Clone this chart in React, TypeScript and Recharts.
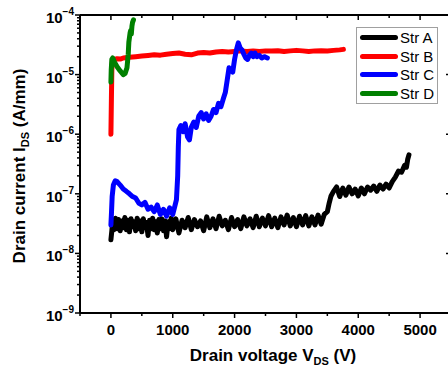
import React from "react";
import { Line, LineChart, ReferenceLine, XAxis, YAxis } from "recharts";

// Str A (black)
const A_V = [0, 15, 30, 50, 75, 100, 125, 150, 175, 200, 225, 250, 275, 300, 325, 350, 375, 400, 425, 450, 475, 500, 525, 550, 575, 600, 625, 650, 675, 700, 725, 750, 775, 800, 825, 850, 875, 900, 925, 950, 975, 1000, 1050, 1100, 1150, 1200, 1250, 1300, 1350, 1400, 1450, 1500, 1550, 1600, 1650, 1700, 1750, 1800, 1850, 1900, 1950, 2000, 2050, 2100, 2150, 2200, 2250, 2300, 2350, 2400, 2450, 2500, 2550, 2600, 2650, 2700, 2750, 2800, 2850, 2900, 2950, 3000, 3050, 3100, 3150, 3200, 3250, 3300, 3350, 3400, 3450, 3500, 3530, 3560, 3600, 3650, 3700, 3750, 3800, 3850, 3900, 3950, 4000, 4050, 4100, 4150, 4200, 4250, 4300, 4350, 4400, 4450, 4500, 4550, 4600, 4650, 4700, 4750, 4780, 4800, 4820];
const A_I = [1.7e-8, 2.4e-8, 3.6e-8, 2.5e-8, 3.9e-8, 2.6e-8, 3.7e-8, 2.4e-8, 3.5e-8, 2.7e-8, 4.0e-8, 2.5e-8, 3.6e-8, 2.3e-8, 3.8e-8, 2.8e-8, 3.4e-8, 2.4e-8, 3.9e-8, 2.6e-8, 3.5e-8, 2.3e-8, 3.8e-8, 2.7e-8, 3.3e-8, 2.0e-8, 3.6e-8, 2.6e-8, 3.9e-8, 2.5e-8, 3.4e-8, 2.2e-8, 3.7e-8, 2.6e-8, 3.8e-8, 2.4e-8, 3.5e-8, 1.9e-8, 3.4e-8, 2.6e-8, 3.9e-8, 2.5e-8, 3.8e-8, 2.2e-8, 3.6e-8, 2.7e-8, 4.0e-8, 2.5e-8, 3.7e-8, 2.8e-8, 3.5e-8, 2.4e-8, 4.1e-8, 2.7e-8, 3.8e-8, 2.6e-8, 4.2e-8, 2.9e-8, 3.6e-8, 2.5e-8, 4.0e-8, 2.8e-8, 3.7e-8, 2.6e-8, 4.1e-8, 2.9e-8, 3.8e-8, 2.7e-8, 4.2e-8, 2.8e-8, 3.9e-8, 2.9e-8, 4.3e-8, 2.8e-8, 3.9e-8, 2.7e-8, 4.1e-8, 3.0e-8, 4.4e-8, 2.9e-8, 4.0e-8, 2.8e-8, 4.2e-8, 3.0e-8, 4.3e-8, 2.9e-8, 4.1e-8, 3.0e-8, 4.4e-8, 3.1e-8, 4.5e-8, 5.0e-8, 7.0e-8, 9.2e-8, 1.1e-7, 1.3e-7, 0.9e-7, 1.25e-7, 0.95e-7, 1.3e-7, 1.0e-7, 1.2e-7, 0.92e-7, 1.25e-7, 1.0e-7, 1.3e-7, 1.15e-7, 1.35e-7, 1.1e-7, 1.4e-7, 1.2e-7, 1.45e-7, 1.25e-7, 1.6e-7, 1.9e-7, 2.4e-7, 2.3e-7, 3.0e-7, 2.8e-7, 3.8e-7, 4.5e-7, 5.3e-7, 6.0e-7];

// Str B (red)
const B_V = [0, 8, 15, 25, 60, 100, 150, 200, 300, 400, 500, 600, 700, 800, 900, 1000, 1100, 1200, 1300, 1400, 1500, 1600, 1700, 1800, 1900, 2000, 2100, 2200, 2300, 2400, 2500, 2600, 2700, 2800, 2900, 3000, 3100, 3200, 3300, 3400, 3500, 3600, 3700, 3760];
const B_I = [1.0e-6, 4e-6, 1.2e-5, 1.75e-5, 1.8e-5, 1.85e-5, 1.82e-5, 1.9e-5, 1.95e-5, 2.0e-5, 2.05e-5, 2.1e-5, 2.15e-5, 2.12e-5, 2.2e-5, 2.25e-5, 2.3e-5, 2.2e-5, 2.15e-5, 2.3e-5, 2.35e-5, 2.3e-5, 2.4e-5, 2.45e-5, 2.4e-5, 2.45e-5, 2.5e-5, 2.45e-5, 2.5e-5, 2.45e-5, 2.5e-5, 2.48e-5, 2.52e-5, 2.45e-5, 2.5e-5, 2.55e-5, 2.5e-5, 2.45e-5, 2.5e-5, 2.52e-5, 2.48e-5, 2.55e-5, 2.6e-5, 2.65e-5];

// Str C (blue)
const C_V = [0, 10, 20, 40, 70, 100, 150, 200, 250, 300, 350, 400, 450, 500, 550, 600, 650, 700, 750, 800, 850, 900, 950, 1000, 1030, 1060, 1080, 1090, 1100, 1130, 1170, 1200, 1240, 1270, 1300, 1340, 1380, 1420, 1460, 1500, 1540, 1580, 1620, 1660, 1700, 1740, 1780, 1820, 1850, 1880, 1910, 1940, 1970, 2000, 2030, 2060, 2090, 2120, 2150, 2180, 2210, 2240, 2270, 2300, 2330, 2360, 2400, 2440, 2480, 2530];
const C_I = [3.0e-8, 5e-8, 9e-8, 1.4e-7, 1.65e-7, 1.6e-7, 1.4e-7, 1.2e-7, 1.1e-7, 1.0e-7, 9e-8, 8.5e-8, 7e-8, 6.5e-8, 7.2e-8, 5.5e-8, 6e-8, 5e-8, 6.5e-8, 4.5e-8, 5.5e-8, 4.2e-8, 5.8e-8, 4.5e-8, 6e-8, 8e-8, 2e-7, 6e-7, 1.2e-6, 1.4e-6, 1.1e-6, 1.5e-6, 9e-7, 8e-7, 1.3e-6, 1.6e-6, 1.3e-6, 2.0e-6, 2.3e-6, 1.8e-6, 2.2e-6, 1.7e-6, 2.0e-6, 2.6e-6, 2.3e-6, 3.3e-6, 2.9e-6, 4e-6, 5e-6, 8e-6, 1.3e-5, 1.2e-5, 1.1e-5, 1.8e-5, 2.6e-5, 3.4e-5, 2.8e-5, 2.6e-5, 2.2e-5, 1.9e-5, 1.8e-5, 2.1e-5, 2.3e-5, 2.0e-5, 2.3e-5, 2.0e-5, 2.1e-5, 1.9e-5, 2.0e-5, 1.9e-5];

// Str D (green)
const D_V = [0, 5, 15, 30, 60, 100, 150, 200, 230, 260, 280, 290, 300, 310, 320, 330, 340, 350, 365];
const D_I = [7.5e-6, 1.2e-5, 1.8e-5, 1.9e-5, 1.6e-5, 1.35e-5, 1.15e-5, 1.0e-5, 1.05e-5, 1.3e-5, 2.2e-5, 3.5e-5, 4.2e-5, 5.0e-5, 5.5e-5, 4.8e-5, 6.5e-5, 7.5e-5, 8.3e-5];

const SERIES = [
  { name: "Str A", color: "#000000", v: A_V, i: A_I },
  { name: "Str B", color: "#ff0000", v: B_V, i: B_I },
  { name: "Str C", color: "#0000ff", v: C_V, i: C_I },
  { name: "Str D", color: "#008000", v: D_V, i: D_I },
];

const X_MAJOR = [0, 1000, 2000, 3000, 4000, 5000];
const X_TICKS = [-500, 0, 500, 1000, 1500, 2000, 2500, 3000, 3500, 4000, 4500, 5000, 5500];
const X_DOMAIN = [-500, 5500];
const Y_DOMAIN = [1e-9, 1e-4];
const Y_EXPONENTS = [-9, -8, -7, -6, -5, -4];

const Y_TICKS: number[] = [];
Y_EXPONENTS.forEach((e) => {
  Y_TICKS.push(Number(`1e${e}`));
  if (e < -4) for (let k = 2; k <= 9; k++) Y_TICKS.push(Number(`${k}e${e}`));
});

// chart box
const W = 470;
const H = 371;
const MARGIN = { top: 15, right: 19, bottom: 0, left: 0 };
const Y_AXIS_W = 80;
const X_AXIS_H = 58;
const PLOT_W = W - MARGIN.left - MARGIN.right - Y_AXIS_W;
const PLOT_H = H - MARGIN.top - MARGIN.bottom - X_AXIS_H;

const FONT = "'Liberation Sans', Arial, sans-serif";
const isMajorY = (v: number) => Math.abs(Math.log10(v) - Math.round(Math.log10(v))) < 1e-6;

// left ticks (outward) + mirrored right ticks (inward)
function LeftTick({ x, y, payload }: any) {
  const major = isMajorY(payload.value);
  const len = major ? 5 : 3;
  const exp = Math.round(Math.log10(payload.value));
  const xr = x + PLOT_W;
  return (
    <g>
      <line x1={x} x2={x - len} y1={y} y2={y} stroke="#000" strokeWidth={1.5} />
      <line x1={xr} x2={xr - len} y1={y} y2={y} stroke="#000" strokeWidth={1.5} />
      {major && (
        <text x={x - 6} y={y + 8} textAnchor="end" fontFamily={FONT} fontWeight="bold" fontSize={15} fill="#000">
          10
          <tspan dy={-8} fontSize={10}>{`\u2212${-exp}`}</tspan>
        </text>
      )}
    </g>
  );
}

function BottomTick({ x, y, payload }: any) {
  const major = X_MAJOR.includes(payload.value);
  return (
    <g>
      <line x1={x} x2={x} y1={y} y2={y + (major ? 5 : 3)} stroke="#000" strokeWidth={1.5} />
      {major && (
        <text x={x} y={y + 22} textAnchor="middle" fontFamily={FONT} fontWeight="bold" fontSize={15} fill="#000">
          {payload.value}
        </text>
      )}
    </g>
  );
}

// inward ticks along the top spine (drawn by the overlay chart)
function TopTick({ x, y, payload }: any) {
  const major = X_MAJOR.includes(payload.value);
  const yt = y - PLOT_H;
  return <line x1={x} x2={x} y1={yt} y2={yt + (major ? 5 : 3)} stroke="#000" strokeWidth={1.5} />;
}

function YTitle() {
  return (
    <text x={0} y={0} transform="translate(25,166) rotate(-90)" textAnchor="middle" fontFamily={FONT} fontWeight="bold" fontSize={17} fill="#000">
      Drain current I
      <tspan dy={4} fontSize={11}>DS</tspan>
      <tspan dy={-4}> (A/mm)</tspan>
    </text>
  );
}

function XTitle() {
  return (
    <text x={273} y={361} textAnchor="middle" fontFamily={FONT} fontWeight="bold" fontSize={17} fill="#000">
      Drain voltage V
      <tspan dy={4} fontSize={11}>DS</tspan>
      <tspan dy={-4}> (V)</tspan>
    </text>
  );
}

function LegendBox() {
  return (
    <div style={{ position: "absolute", left: 356, top: 27, border: "1px solid #a0a0a0", background: "#fff", width: 82, boxSizing: "border-box", fontFamily: FONT, fontSize: 15 }}>
      {SERIES.map((s) => (
        <div key={s.name} style={{ display: "flex", alignItems: "center", height: 18.75 }}>
          <span style={{ display: "inline-block", width: 38, height: 5, borderRadius: 3, background: s.color, marginLeft: 3, marginRight: 2 }} />
          <span style={{ color: "#000" }}>{s.name}</span>
        </div>
      ))}
    </div>
  );
}

const lineData = (s: (typeof SERIES)[number]) => s.v.map((v, k) => ({ v, i: s.i[k] }));

export default function App() {
  return (
    <div style={{ position: "absolute", left: 0, top: 0, width: 448, height: 371, overflow: "hidden", background: "#fff" }}>
      <LineChart width={W} height={H} margin={MARGIN}>
        <XAxis
          type="number"
          dataKey="v"
          domain={X_DOMAIN}
          ticks={X_TICKS}
          interval={0}
          allowDataOverflow
          height={X_AXIS_H}
          tickSize={0}
          tickMargin={0}
          tickLine={false}
          tick={<BottomTick />}
          axisLine={{ stroke: "#000", strokeWidth: 2 }}
          label={<XTitle />}
        />
        <YAxis
          type="number"
          scale="log"
          dataKey="i"
          domain={Y_DOMAIN}
          ticks={Y_TICKS}
          interval={0}
          allowDataOverflow
          width={Y_AXIS_W}
          tickSize={0}
          tickMargin={0}
          tickLine={false}
          tick={<LeftTick />}
          axisLine={{ stroke: "#000", strokeWidth: 2 }}
          label={<YTitle />}
        />
        {SERIES.map((s) => (
          <Line
            key={s.name}
            name={s.name}
            data={lineData(s)}
            dataKey="i"
            stroke={s.color}
            strokeWidth={5}
            strokeLinejoin="round"
            strokeLinecap="round"
            dot={false}
            activeDot={false}
            type="linear"
            isAnimationActive={false}
          />
        ))}
      </LineChart>

      {/* frame overlay: top spine + inward top ticks, same scales */}
      <div style={{ position: "absolute", left: 0, top: 0, pointerEvents: "none" }}>
        <LineChart width={W} height={H} margin={MARGIN}>
          <XAxis
            type="number"
            dataKey="v"
            domain={X_DOMAIN}
            ticks={X_TICKS}
            interval={0}
            allowDataOverflow
            height={X_AXIS_H}
            tickSize={0}
            tickMargin={0}
            tickLine={false}
            axisLine={false}
            tick={<TopTick />}
          />
          <YAxis type="number" scale="log" dataKey="i" domain={Y_DOMAIN} allowDataOverflow width={Y_AXIS_W} tick={false} axisLine={false} tickLine={false} />
          <ReferenceLine y={Y_DOMAIN[1]} stroke="#000" strokeWidth={2} />
          <ReferenceLine x={X_DOMAIN[1]} stroke="#000" strokeWidth={2} />
          <Line data={lineData(SERIES[0])} dataKey="i" stroke="none" dot={false} activeDot={false} isAnimationActive={false} />
        </LineChart>
      </div>

      <LegendBox />
    </div>
  );
}
